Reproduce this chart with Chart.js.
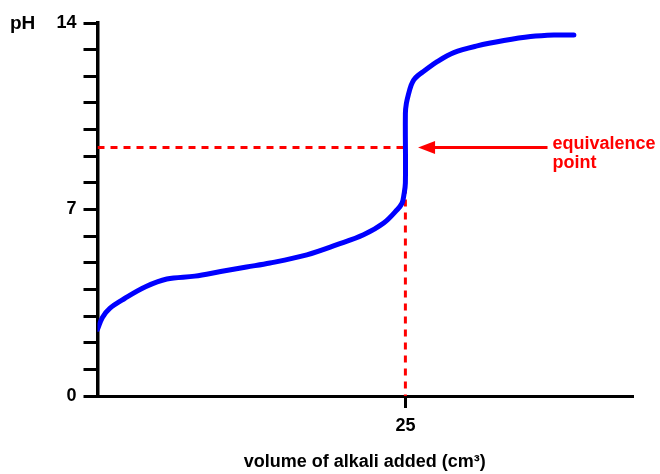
<!DOCTYPE html>
<html>
<head>
<meta charset="utf-8">
<script src="https://cdn.jsdelivr.net/npm/chart.js@4"></script>
<style>
  html, body { margin: 0; padding: 0; background: #fff; }
  #wrap { width: 660px; height: 474px; position: relative; }
</style>
</head>
<body>
<div id="wrap"><canvas id="c"></canvas></div>
<script>
// ---- data ----
const volume = [0, 0.4, 1.02, 2.2, 3.9, 5.63, 7.9, 10.0, 12.1, 14.0, 17.0, 19.45, 21.6, 23.24, 24.33, 24.73, 24.88, 25.0, 25.0, 25.08, 25.27, 25.45, 25.67, 26.0, 26.49, 27.58, 28.93, 30.83, 33.0, 35.16, 37.06, 38.68];
const pH     = [2.5, 2.95, 3.3, 3.66, 4.1, 4.39, 4.5, 4.67, 4.84, 4.99, 5.30, 5.68, 6.05, 6.49, 6.99, 7.24, 7.55, 8.0, 10.6, 10.98, 11.36, 11.64, 11.86, 12.02, 12.19, 12.55, 12.89, 13.14, 13.34, 13.49, 13.55, 13.55];
const equivalenceVolume = 25;
const equivalencePH = 9.33;
const xTickValues = [25];
const yTickLabels = ['0', '7', '14'];
const arrowFromX = 36.54;
const arrowTipX = 26.03;
const annotationLines = ['equivalence', 'point'];
const annotationX = 36.95;
const yAxisName = 'pH';
const xAxisTitle = 'volume of alkali added (cm\u00B3)';

const curve = volume.map((v, i) => ({ x: v, y: pH[i] }));
const hLine = [{ x: 0, y: equivalencePH }, { x: equivalenceVolume, y: equivalencePH }];
const vLine = [{ x: equivalenceVolume, y: equivalencePH }, { x: equivalenceVolume, y: 0 }];

const RED = '#ff0000';
const BLUE = '#0000ff';
const FONT = '"Liberation Sans", Arial, Helvetica, sans-serif';

const annotate = {
  id: 'annotate',
  afterDatasetsDraw(chart) {
    const { ctx, scales: { x, y } } = chart;
    ctx.save();
    const yp = y.getPixelForValue(equivalencePH);
    const tip = x.getPixelForValue(arrowTipX);
    const from = x.getPixelForValue(arrowFromX);
    const headLen = 17, headHalf = 6.5;
    ctx.strokeStyle = RED;
    ctx.lineWidth = 3;
    ctx.beginPath();
    ctx.moveTo(from, yp);
    ctx.lineTo(tip + headLen - 1, yp);
    ctx.stroke();
    ctx.fillStyle = RED;
    ctx.beginPath();
    ctx.moveTo(tip, yp);
    ctx.lineTo(tip + headLen, yp - headHalf);
    ctx.lineTo(tip + headLen, yp + headHalf);
    ctx.closePath();
    ctx.fill();
    ctx.font = 'bold 18px ' + FONT;
    ctx.textAlign = 'left';
    ctx.textBaseline = 'alphabetic';
    const tx = x.getPixelForValue(annotationX);
    ctx.fillText(annotationLines[0], tx, yp + 2);
    ctx.fillText(annotationLines[1], tx, yp + 21);
    ctx.fillStyle = '#000';
    ctx.font = 'bold 19px ' + FONT;
    ctx.fillText(yAxisName, 10, y.getPixelForValue(14) + 6);
    ctx.restore();
  }
};

new Chart(document.getElementById('c'), {
  type: 'line',
  data: {
    datasets: [
      { data: hLine, borderColor: RED, borderWidth: 3, borderDash: [7, 6], pointRadius: 0, fill: false, order: 2 },
      { data: vLine, borderColor: RED, borderWidth: 3, borderDash: [7, 6], pointRadius: 0, fill: false, order: 2 },
      { data: curve, borderColor: BLUE, borderWidth: 5, pointRadius: 0, tension: 0.35, fill: false, order: 1,
        borderJoinStyle: 'round', borderCapStyle: 'round' }
    ]
  },
  options: {
    responsive: true,
    maintainAspectRatio: false,
    animation: false,
    layout: { padding: { left: 0, right: 28, top: 23, bottom: 0 } },
    plugins: { legend: { display: false }, tooltip: { enabled: false } },
    scales: {
      x: {
        type: 'linear',
        min: 0,
        max: 43.4,
        afterBuildTicks: s => { s.ticks = xTickValues.map(v => ({ value: v })); },
        afterFit: s => { s.height = 78; },
        grid: { drawOnChartArea: false, color: '#000', lineWidth: 3, tickLength: 12 },
        border: { display: true, color: '#000', width: 3 },
        ticks: { color: '#000', padding: 7, maxRotation: 0, font: { family: FONT, size: 18, weight: 'bold' } },
        title: { display: true, text: xAxisTitle, color: '#000', padding: { top: 0, bottom: 1 },
                 font: { family: FONT, size: 18, weight: 'bold' } }
      },
      y: {
        min: 0,
        max: 14,
        afterFit: s => { s.width = 97.5; },
        grid: { drawOnChartArea: false, color: '#000', lineWidth: 3, tickLength: 14 },
        border: { display: true, color: '#000', width: 3.5 },
        ticks: {
          stepSize: 1,
          color: '#000',
          padding: 7,
          autoSkip: false,
          font: { family: FONT, size: 18, weight: 'bold' },
          callback: v => yTickLabels.includes(String(v)) ? String(v) : ''
        }
      }
    }
  },
  plugins: [annotate]
});
</script>
</body>
</html>
